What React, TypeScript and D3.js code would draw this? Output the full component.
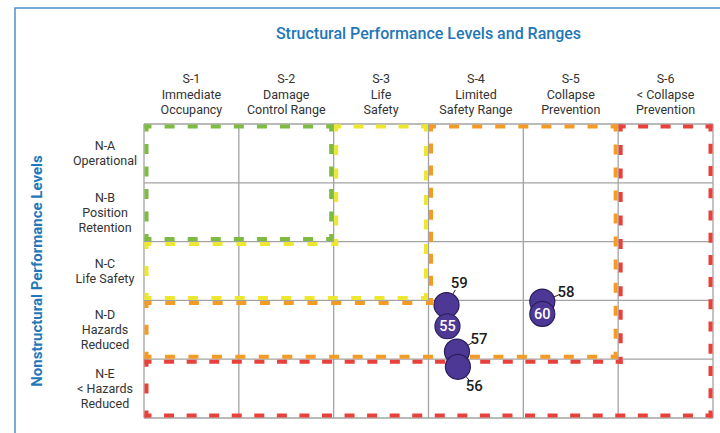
import { useEffect, useRef } from 'react';
import * as d3 from 'd3';

// column headers (structural levels) and row headers (nonstructural levels)
const structuralLabels = [
  ['S-1', 'Immediate', 'Occupancy'],
  ['S-2', 'Damage', 'Control Range'],
  ['S-3', 'Life', 'Safety'],
  ['S-4', 'Limited', 'Safety Range'],
  ['S-5', 'Collapse', 'Prevention'],
  ['S-6', '< Collapse', 'Prevention'],
];
const nonstructuralLabels = [
  ['N-A', 'Operational'],
  ['N-B', 'Position', 'Retention'],
  ['N-C', 'Life Safety'],
  ['N-D', 'Hazards', 'Reduced'],
  ['N-E', '< Hazards', 'Reduced'],
];

// nested performance ranges: number of structural columns / nonstructural rows covered
const rangeColumns = [2, 3, 5, 6];
const rangeRows = [2, 3, 4, 5];
const rangeColors = ['#7dbb42', '#ede72f', '#f39b25', '#e8413b'];

// buildings, placed in continuous level units (0 = left/top edge of the grid)
const buildingIds = [59, 55, 58, 60, 57, 56];
const structuralPos = [3.19, 3.2, 4.2, 4.2, 3.3, 3.31];
const nonstructuralPos = [3.08, 3.44, 3.02, 3.23, 3.87, 4.13];
// callout direction in degrees, null = label drawn inside the marker
const calloutAngles: (number | null)[] = [-60, null, -22, null, -30, 50];

export default function App() {
  const svgRef = useRef<SVGSVGElement>(null);

  useEffect(() => {
    if (!svgRef.current) return;
    d3.select(svgRef.current).selectAll('*').remove();

    const width = 720;
    const height = 433;
    const grid = { left: 144, right: 713, top: 124, bottom: 418 };
    const font = 'Roboto, "Noto Sans", Arial, sans-serif';

    const svg = d3
      .select(svgRef.current)
      .attr('width', width)
      .attr('height', height)
      .style('font-family', font);

    const x = d3
      .scaleLinear()
      .domain([0, structuralLabels.length])
      .range([grid.left, grid.right]);
    const y = d3
      .scaleLinear()
      .domain([0, nonstructuralLabels.length])
      .range([grid.top, grid.bottom]);

    // outer frame
    svg
      .append('rect')
      .attr('x', 15)
      .attr('y', 8)
      .attr('width', 800)
      .attr('height', 600)
      .attr('fill', 'none')
      .attr('stroke', '#4d8fcc')
      .attr('stroke-width', 1.5);

    // title
    svg
      .append('text')
      .attr('x', (grid.left + grid.right) / 2)
      .attr('y', 39)
      .attr('text-anchor', 'middle')
      .style('font-size', '16px')
      .style('font-weight', 500)
      .style('fill', '#2377b8')
      .text('Structural Performance Levels and Ranges');

    svg
      .append('text')
      .attr('transform', `translate(42, ${(grid.top + grid.bottom) / 2}) rotate(-90)`)
      .attr('text-anchor', 'middle')
      .style('font-size', '15px')
      .style('font-weight', 700)
      .style('fill', '#2377b8')
      .text('Nonstructural Performance Levels');

    // column headers
    structuralLabels.forEach((lines, i) => {
      const t = svg
        .append('text')
        .attr('text-anchor', 'middle')
        .style('font-size', '12.5px')
        .style('fill', '#333');
      lines.forEach((line, k) => {
        t.append('tspan')
          .attr('x', x(i + 0.5))
          .attr('y', 83 + k * 15.5)
          .text(line);
      });
    });

    // row headers
    nonstructuralLabels.forEach((lines, j) => {
      const t = svg
        .append('text')
        .attr('text-anchor', 'middle')
        .style('font-size', '12.5px')
        .style('fill', '#333');
      const start = y(j + 0.5) - ((lines.length - 1) * 15) / 2 + 4.5;
      lines.forEach((line, k) => {
        t.append('tspan')
          .attr('x', 105)
          .attr('y', start + k * 15)
          .text(line);
      });
    });

    // grid
    const g = svg.append('g').attr('stroke', '#a3a3a3').attr('stroke-width', 1.3);
    d3.range(structuralLabels.length + 1).forEach((i) => {
      g.append('line')
        .attr('x1', x(i))
        .attr('x2', x(i))
        .attr('y1', y(0))
        .attr('y2', y(nonstructuralLabels.length));
    });
    d3.range(nonstructuralLabels.length + 1).forEach((j) => {
      g.append('line')
        .attr('x1', x(0))
        .attr('x2', x(structuralLabels.length))
        .attr('y1', y(j))
        .attr('y2', y(j));
    });

    // range outlines, each tracing only the band it adds to the previous range.
    // every edge is dashed on its own so that the corners get a short L-shaped dash
    // (square caps add 2px at each end of a dash)
    const d = 2.5;
    const dash = 6;
    const corner = 3;
    const outlines = svg.append('g');
    rangeColumns.forEach((cols, k) => {
      const pc = k > 0 ? rangeColumns[k - 1] : 0;
      const pr = k > 0 ? rangeRows[k - 1] : 0;
      const left = x(0) + d;
      const top = y(0) + d;
      const cx = x(cols) - d;
      const ry = y(rangeRows[k]) - d;
      const pts: [number, number][] =
        k > 0
          ? [
              [x(pc) + d, top],
              [cx, top],
              [cx, ry],
              [left, ry],
              [left, y(pr) + d],
              [x(pc) + d, y(pr) + d],
            ]
          : [
              [left, top],
              [cx, top],
              [cx, ry],
              [left, ry],
            ];
      pts.forEach((p0, i) => {
        const p1 = pts[(i + 1) % pts.length];
        const len = Math.hypot(p1[0] - p0[0], p1[1] - p0[1]);
        const n = Math.max(0, Math.round((len - 2 * corner - 17) / (dash + 17)));
        const gap = (len - 2 * corner - n * dash) / (n + 1);
        outlines
          .insert('line', ':first-child')
          .attr('x1', p0[0])
          .attr('y1', p0[1])
          .attr('x2', p1[0])
          .attr('y2', p1[1])
          .attr('stroke', rangeColors[k])
          .attr('stroke-width', 4)
          .attr('stroke-linecap', 'square')
          .attr('stroke-dasharray', `${dash} ${gap}`)
          .attr('stroke-dashoffset', dash - corner);
      });
    });

    // buildings
    const r = 12.5;
    buildingIds.forEach((id, i) => {
      const cx = x(structuralPos[i]);
      const cy = y(nonstructuralPos[i]);
      svg
        .append('circle')
        .attr('cx', cx)
        .attr('cy', cy)
        .attr('r', r)
        .attr('fill', '#4e3895')
        .attr('stroke', '#2a1d5a')
        .attr('stroke-width', 1.2);
      const angle = calloutAngles[i];
      if (angle === null) {
        svg
          .append('text')
          .attr('x', cx)
          .attr('y', cy + 5)
          .attr('text-anchor', 'middle')
          .style('font-size', '14.5px')
          .style('font-weight', 500)
          .style('fill', '#fff')
          .text(id);
      } else {
        const a = (angle * Math.PI) / 180;
        svg
          .append('line')
          .attr('x1', cx + Math.cos(a) * r)
          .attr('y1', cy + Math.sin(a) * r)
          .attr('x2', cx + Math.cos(a) * (r + 5))
          .attr('y2', cy + Math.sin(a) * (r + 5))
          .attr('stroke', '#222')
          .attr('stroke-width', 1);
        svg
          .append('text')
          .attr('x', cx + Math.cos(a) * (r + 13))
          .attr('y', cy + Math.sin(a) * (r + 13) + 5)
          .attr('text-anchor', 'middle')
          .style('font-size', '15px')
          .style('font-weight', 500)
          .style('fill', '#1d1d1d')
          .text(id);
      }
    });
  }, []);

  return (
    <svg
      ref={svgRef}
      style={{ position: 'absolute', left: 0, top: 0, background: '#fff' }}
    />
  );
}
